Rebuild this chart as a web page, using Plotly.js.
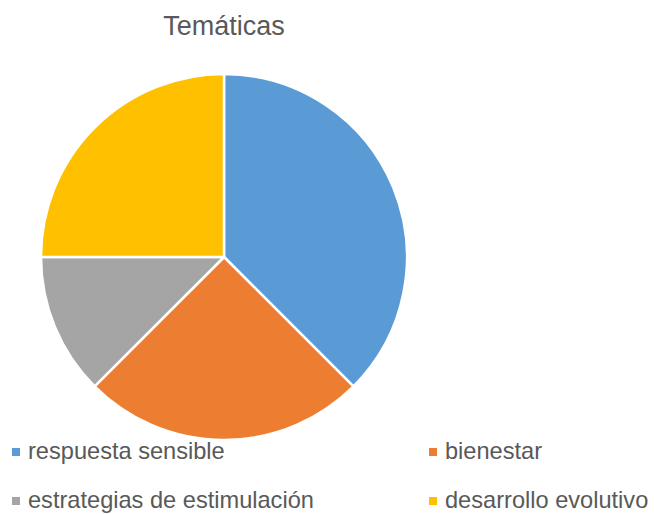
<!DOCTYPE html>
<html>
<head>
<meta charset="utf-8">
<script src="https://cdn.plot.ly/plotly-3.0.1.min.js"></script>
<style>html,body{margin:0;padding:0;background:#fff;}#chart{width:654px;height:514px;}</style>
</head>
<body>
<div id="chart"></div>
<script>
var labels = ["respuesta sensible", "bienestar", "estrategias de estimulación", "desarrollo evolutivo"];
var values = [3, 2, 1, 2];
var colors = ["#5B9BD5", "#ED7D31", "#A5A5A5", "#FFC000"];

var W = 654, H = 514;
var trace = {
  type: "pie",
  labels: labels,
  values: values,
  sort: false,
  direction: "clockwise",
  rotation: 0,
  textinfo: "none",
  hoverinfo: "label+value+percent",
  showlegend: false,
  marker: {colors: colors, line: {color: "#ffffff", width: 2.5}},
  domain: {x: [41/W, 407/W], y: [74/H, 440/H]}
};

// legend drawn as annotations + square shapes (two columns, Excel-style)
var colX = [28, 445];
var rowY = [451, 500];
var annotations = [], shapes = [];
labels.forEach(function(lab, i) {
  var cx = colX[i % 2], cy = rowY[Math.floor(i / 2)];
  annotations.push({
    xref: "paper", yref: "paper", x: (cx - 2) / W, y: 1 - cy / H,
    xanchor: "left", yanchor: "middle", showarrow: false,
    text: lab, font: {size: 23.6, color: "#595959"}
  });
  shapes.push({
    type: "rect", xref: "paper", yref: "paper",
    x0: (cx - 16) / W, x1: (cx - 8) / W,
    y0: 1 - (cy + 5) / H, y1: 1 - (cy - 3) / H,
    fillcolor: colors[i], line: {width: 0}
  });
});

var layout = {
  width: W,
  height: H,
  margin: {l: 0, r: 0, t: 0, b: 0},
  paper_bgcolor: "#ffffff",
  font: {family: "Liberation Sans, Arial, sans-serif", color: "#595959"},
  title: {text: "Temáticas", font: {size: 27, color: "#595959"}, x: 224/W, xanchor: "center", y: 1 - 26/H, yanchor: "middle", yref: "container"},
  showlegend: false,
  annotations: annotations,
  shapes: shapes
};

Plotly.newPlot("chart", [trace], layout, {displayModeBar: false, staticPlot: true});
</script>
</body>
</html>
